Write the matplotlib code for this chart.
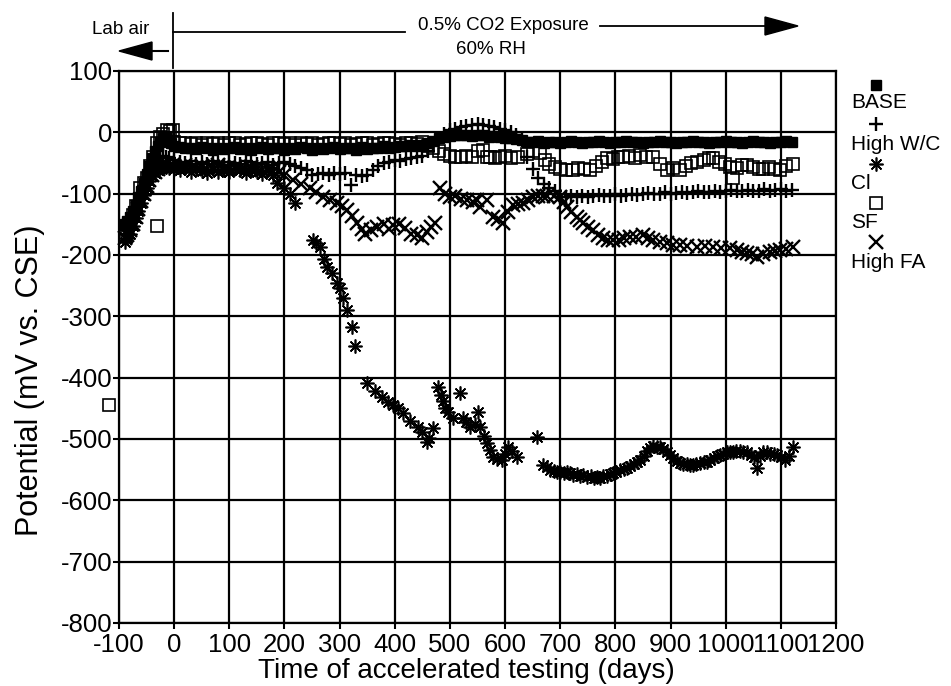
import numpy as np
import matplotlib
matplotlib.use("Agg")
import matplotlib.pyplot as plt
from matplotlib.lines import Line2D
from matplotlib.patches import Polygon

plt.rcParams['font.family'] = ['Liberation Sans', 'DejaVu Sans']
plt.rcParams['axes.unicode_minus'] = False

# ---- data (days, mV vs CSE) ----
base_days = [-90, -85, -80, -75, -70, -65, -60, -55, -50, -45, -40, -35, -30, -25, -20, -15, -10, -5,
             0, 10, 20, 30, 40, 50, 60, 70, 80, 90, 100, 110, 120, 130, 140, 150, 160, 170, 180, 190,
             200, 210, 220, 230, 240, 250, 260, 270, 280, 290, 300, 310, 320, 330, 340, 350, 360, 370,
             380, 390, 400, 410, 420, 430, 440, 450, 460,
             470, 480, 490, 500, 510, 520, 530, 540, 550, 560, 570, 580, 590, 600, 610, 620, 630,
             640, 650, 660, 670, 680, 690, 700, 710, 720, 730, 740, 750, 760, 770, 780, 790, 800, 810,
             820, 830, 840, 850, 860, 870, 880, 890, 900, 910, 920, 930, 940, 950, 960, 970, 980, 990,
             1000, 1010, 1020, 1030, 1040, 1050, 1060, 1070, 1080, 1090, 1100, 1110, 1120]
base_mv = [-150, -145, -138, -128, -118, -105, -95, -82, -68, -55, -42, -30, -22, -15, -10, -8, -12, -18,
           -22, -24, -26, -25, -27, -24, -26, -28, -25, -27,
           -26, -24, -27, -25, -28, -26, -24, -27, -25, -26,
           -28, -25, -27, -24, -26, -28, -25, -27, -26, -24,
           -27, -25, -26, -28, -24, -27, -25, -26, -23, -25,
           -24, -22, -23, -21, -22, -20, -18,
           -14, -10, -8, -6, -5, -4, -5, -6, -4, -5, -7, -6, -8, -9, -10, -11, -12,
           -15, -16, -14, -17, -15, -16, -18, -15, -14, -16,
           -17, -15, -16, -14, -15, -17, -16, -15, -14, -16,
           -15, -17, -16, -15, -14, -16, -15, -17, -16, -15,
           -14, -16, -15, -17, -16, -15, -14, -15, -16, -17,
           -15, -14, -16, -15, -17, -16, -15, -14, -15]

hwc_days = [-90, -85, -80, -75, -70, -65, -60, -55, -50, -45, -40, -35, -30, -25, -20, -15, -10,
            0, 10, 20, 30, 40, 50, 60, 70, 80, 90, 100, 110, 120, 130, 140, 150, 160, 170, 180, 190,
            200, 210, 220, 230, 240,
            250, 260, 270, 280, 290, 300, 310, 320, 330, 340, 350, 360,
            370, 380, 390, 400, 410, 420, 430, 440, 450, 460,
            470, 480, 490, 500, 510, 520, 530, 540, 550, 560, 570, 580, 590, 600, 610, 620, 630,
            640, 650, 660, 670, 680, 690,
            700, 710, 720, 730, 740, 750, 760, 770, 780, 790, 800, 810, 820, 830, 840, 850, 860, 870,
            880, 890, 900, 910, 920, 930, 940, 950, 960, 970, 980, 990, 1000, 1010, 1020, 1030, 1040,
            1050, 1060, 1070, 1080, 1090, 1100, 1110, 1120]
hwc_mv = [-165, -160, -150, -140, -128, -115, -100, -88, -75, -65, -55, -48, -42, -40, -38, -40, -42,
          -45, -48, -50, -47, -52, -49, -51, -46, -50, -53, -48, -50, -52, -47, -49, -51, -50, -48, -53, -50,
          -49, -52, -55, -58, -62,
          -70, -68, -67, -69, -66, -68, -67, -86, -70, -72, -70, -62,
          -55, -50, -48, -45, -47, -44, -42, -40, -38, -30,
          -20, -10, -2, 3, 6, 8, 10, 12, 14, 12, 10, 8, 6, 4, 0, -5, -12,
          -40, -59, -75, -85, -90, -96,
          -106, -105, -104, -106, -103, -105, -104, -102, -104, -103,
          -101, -103, -102, -100, -102, -101, -99, -101, -100, -98,
          -100, -99, -97, -99, -98, -96, -98, -97, -95, -97,
          -96, -94, -96, -95, -94, -96, -95, -93, -95, -94,
          -93, -95, -94]

cl_days = [-90, -85, -80, -75, -70, -65, -60, -55, -50, -45, -40, -35, -30, -25, -20, -15, -10,
           0, 10, 20, 30, 40, 50, 60, 70, 80, 90, 100, 110, 120, 130, 140, 150, 160, 170, 180, 186, 200,
           210, 220, 252, 258, 264, 272, 277, 286, 295, 301, 306, 313, 322, 328, 350, 364, 376, 388, 397,
           406, 415, 428, 442, 450, 458, 462, 469, 478, 484, 487, 491, 497, 505, 518, 524, 530, 537, 545,
           551, 555, 561, 567, 572, 578, 586, 594, 600, 605, 612, 622, 658, 669, 676, 682, 688, 694, 700,
           706, 712, 718, 724, 730, 736, 742, 749, 755, 761, 767, 772, 778, 784, 790, 796, 802, 808, 815,
           821, 827, 833, 839, 845, 851, 857, 863, 869, 875, 881, 887, 893, 899, 905, 911, 917, 923, 929,
           935, 941, 947, 953, 960, 966, 972, 978, 984, 990, 996, 1002, 1008, 1013, 1019, 1026, 1032,
           1039, 1045, 1051, 1057, 1062, 1068, 1074, 1080, 1087, 1093, 1100, 1108, 1115, 1122]
cl_mv = [-178, -172, -165, -152, -140, -128, -115, -102, -90, -80, -72, -66, -62, -58, -56, -57, -58,
         -60, -62, -58, -65, -60, -63, -66, -60, -64, -62, -65, -58, -62, -66, -60, -64, -68, -62, -70, -83, -90,
         -100, -116, -176, -180, -187, -207, -220, -230, -246, -254, -270, -290, -318, -349, -409, -422, -432,
         -440, -445, -450, -458, -470, -480, -488, -505, -498, -482, -415, -428, -438, -450, -456, -465, -425,
         -466, -472, -480, -476, -456, -480, -495, -507, -518, -529, -532, -534, -524, -513, -520, -529, -497,
         -542, -546, -550, -552, -554, -553, -556, -554, -555, -558, -557, -560, -559, -562, -561, -563, -562,
         -564, -561, -560, -557, -555, -553, -551, -549, -547, -544, -540, -537, -534, -528, -520, -515, -512,
         -513, -513, -517, -522, -526, -531, -536, -539, -541, -540, -542, -542, -541, -539, -538, -537, -534,
         -531, -528, -526, -524, -522, -521, -521, -520, -520, -521, -521, -526, -530, -547, -528, -521, -522,
         -524, -525, -526, -530, -534, -528, -513]

sf_days = [-118, -90, -85, -80, -75, -70, -62, -55, -49, -43, -38, -31, -31, -25, -20, -13, -8, -2,
           0, 10, 20, 30, 40, 50, 60, 70, 80, 90, 100, 110, 120, 130, 140, 150, 160, 170, 180, 190,
           200, 210, 220, 230, 240, 250, 260, 270, 280, 290, 300, 310, 320, 330, 340, 350, 360, 370,
           380, 390, 400, 410, 420, 430, 440, 450, 460,
           470, 480, 490, 500, 510, 520, 530, 540, 550, 560, 567, 573, 582, 591, 600, 610, 623, 640, 651,
           663, 672, 680, 690, 700, 711, 723, 733, 743, 754, 764, 775, 785, 795, 805, 814, 825, 835, 845,
           856, 868, 880, 894, 905, 917, 928, 938, 948, 960, 970, 977, 988, 998, 1008, 1013, 1020, 1030,
           1039, 1050, 1060, 1068, 1078, 1088, 1099, 1110, 1122]
sf_mv = [-445, -165, -160, -150, -135, -120, -91, -82, -75, -55, -40, -18, -152, -8, -2, 3, 2, 3,
         -15, -18, -17, -19, -18, -20, -17, -19, -18, -21,
         -18, -17, -20, -19, -18, -17, -19, -20, -18, -17,
         -19, -18, -20, -17, -19, -18, -21, -19, -18, -17,
         -19, -18, -20, -19, -17, -18, -20, -19, -18, -17,
         -19, -20, -18, -17, -19, -16, -22,
         -25, -30, -35, -38, -40, -40, -38, -40, -30, -29, -40, -40, -42, -40, -38, -42, -40, -36, -30,
         -34, -45, -52, -57, -59, -62, -62, -58, -60, -62, -55, -48, -42, -44, -40, -40, -38, -42, -37,
         -40, -40, -52, -62, -58, -62, -55, -50, -49, -45, -42, -42, -48, -52, -57, -75, -58, -54,
         -54, -56, -60, -59, -57, -60, -62, -55, -51]

hfa_days = [-90, -85, -80, -75, -70, -65, -60, -55, -50, -45, -40, -35, -30, -25, -20, -15, -10,
            0, 10, 20, 30, 40, 50, 60, 70, 80, 90, 100, 110, 120, 130, 140, 150, 160, 170, 180, 190, 200,
            216, 230, 246, 258, 270, 283, 295, 304, 313, 322, 332, 340, 346, 357, 368, 380, 389, 397, 408,
            419, 430, 440, 449, 458, 466, 473, 482, 491, 500, 510, 520, 531, 541, 549, 555, 567, 578, 587,
            596, 605, 614, 623, 633, 642, 651, 660, 668, 676, 688, 700, 706, 712, 720, 730, 735, 741, 750,
            759, 768, 778, 787, 796, 806, 816, 827, 838, 850, 859, 868, 880, 894, 905, 917, 930, 948, 962,
            977, 992, 1008, 1020, 1030, 1039, 1048, 1057, 1068, 1080, 1090, 1099, 1110, 1122]
hfa_mv = [-172, -168, -160, -150, -138, -125, -112, -100, -88, -78, -70, -64, -60, -57, -55, -54, -55,
          -55, -57, -54, -58, -56, -55, -59, -57, -54, -58, -60, -56, -58, -61, -57, -60, -62, -58, -63, -65, -70,
          -78, -85, -91, -98, -106, -110, -116, -120, -127, -137, -148, -158, -165, -160, -155, -150, -158,
          -151, -150, -156, -165, -168, -172, -163, -155, -148, -91, -100, -106, -104, -108, -111, -113, -110,
          -122, -111, -138, -142, -148, -130, -119, -117, -116, -110, -106, -103, -104, -103, -104, -106,
          -114, -122, -130, -138, -143, -148, -154, -160, -167, -173, -175, -176, -175, -172, -171, -170,
          -168, -172, -176, -178, -181, -183, -184, -186, -187, -186, -187, -188, -189, -192, -195, -197,
          -199, -203, -198, -195, -193, -192, -190, -187]

series_names = ['BASE', 'High W/C', 'Cl', 'SF', 'High FA']

W, H = 951, 686
fig = plt.figure(figsize=(W / 100, H / 100), dpi=100)


def fx(px):
    return px / W


def fy(py):
    return 1 - py / H


ax = fig.add_axes([fx(119), fy(623), (836 - 119) / W, (623 - 71) / H])

styles = [
    dict(marker='s', ms=7, mfc='black', mec='black', mew=1),
    dict(marker='+', ms=10, mec='black', mew=1.7),
    dict(marker=(8, 2, 0), ms=10, mec='black', mew=1.2),
    dict(marker='s', ms=8, mfc='none', mec='black', mew=1.2),
    dict(marker='x', ms=10, mec='black', mew=1.7),
]
data = [(base_days, base_mv), (hwc_days, hwc_mv), (cl_days, cl_mv),
        (sf_days, sf_mv), (hfa_days, hfa_mv)]

for (d, v), st in zip(data, styles):
    ax.plot(d, v, linestyle='none', clip_on=False, **st)

ax.set_xlim(-100, 1200)
ax.set_ylim(-800, 100)
ax.set_xticks(range(-100, 1201, 100))
ax.set_yticks(range(-800, 101, 100))
ax.grid(True, color='black', linewidth=1.6)
ax.set_axisbelow(True)
for s in ax.spines.values():
    s.set_linewidth(1.6)
ax.tick_params(direction='out', length=4, width=1.5, labelsize=18.5)
ax.tick_params(axis='x', pad=3)
ax.tick_params(axis='y', pad=1)
ax.set_xlabel('Time of accelerated testing (days)', fontsize=20, va='center')
ax.xaxis.set_label_coords((466 - 119) / 717, (623 - 671) / 552)
ax.set_ylabel('Potential (mV vs. CSE)', fontsize=22, va='center')
ax.yaxis.set_label_coords((30 - 119) / 717, (623 - 380) / 552)

# legend drawn by hand: marker above label
leg_mark_y = [85, 124, 164, 203, 242]
leg_text_y = [103, 144, 184, 222, 262]
for st, name, my, ty in zip(styles, series_names, leg_mark_y, leg_text_y):
    fig.add_artist(Line2D([fx(876)], [fy(my)], transform=fig.transFigure, linestyle='none', **st))
    fig.text(fx(851), fy(ty), name, fontsize=15, ha='left', va='center')

# exposure annotations above the plot
fig.text(fx(121), fy(30), 'Lab air', fontsize=13.5, ha='center', va='center')
fig.add_artist(Line2D([fx(173), fx(173)], [fy(13), fy(68)], transform=fig.transFigure, color='black', lw=1.3))
fig.add_artist(Line2D([fx(148), fx(168)], [fy(51), fy(51)], transform=fig.transFigure, color='black', lw=1.5))
fig.add_artist(Polygon([(fx(119), fy(51)), (fx(152), fy(42)), (fx(152), fy(60))],
                       closed=True, transform=fig.transFigure, color='black'))
fig.add_artist(Line2D([fx(173), fx(405)], [fy(32), fy(32)], transform=fig.transFigure, color='black', lw=1.3))
fig.text(fx(503), fy(25), '0.5% CO2 Exposure', fontsize=13.5, ha='center', va='center')
fig.text(fx(491), fy(50), '60% RH', fontsize=13.5, ha='center', va='center')
fig.add_artist(Line2D([fx(600), fx(770)], [fy(26), fy(26)], transform=fig.transFigure, color='black', lw=1.3))
fig.add_artist(Polygon([(fx(798), fy(26)), (fx(765), fy(17)), (fx(765), fy(35))],
                       closed=True, transform=fig.transFigure, color='black'))

fig.savefig('out.png', dpi=100)
